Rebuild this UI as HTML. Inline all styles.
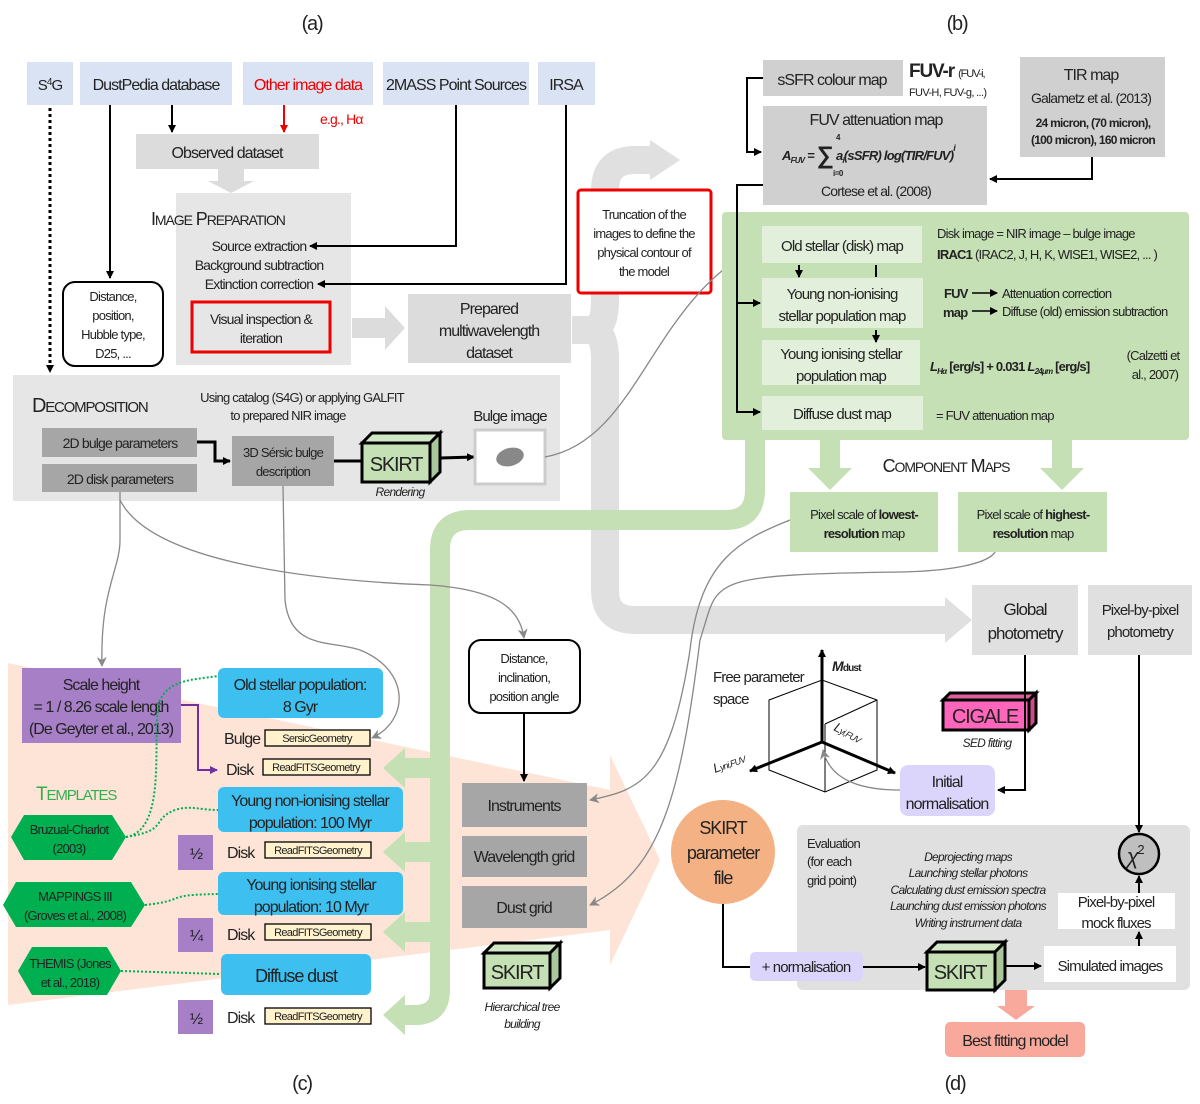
<!DOCTYPE html>
<html><head><meta charset="utf-8"><style>
html,body{margin:0;padding:0;background:#fff}
svg{display:block}
text{font-family:"Liberation Sans Narrow","Liberation Sans",sans-serif;fill:#222;letter-spacing:-0.06em}
.c{text-anchor:middle}
.i{font-style:italic}
</style></head><body>
<svg width="1200" height="1104" viewBox="0 0 1200 1104" xmlns="http://www.w3.org/2000/svg">
<defs>
<marker id="ak" markerWidth="8" markerHeight="8" refX="7" refY="4" orient="auto" markerUnits="userSpaceOnUse"><path d="M0,0 L8,4 L0,8 z" fill="#000"/></marker>
<marker id="ag" markerWidth="10" markerHeight="10" refX="9" refY="5" orient="auto" markerUnits="userSpaceOnUse"><path d="M0,0 L10,5 L0,10 L3,5 z" fill="#888"/></marker>
<marker id="ar" markerWidth="8" markerHeight="8" refX="7" refY="4" orient="auto" markerUnits="userSpaceOnUse"><path d="M0,0 L8,4 L0,8 z" fill="#e00"/></marker>
<marker id="ap" markerWidth="8" markerHeight="8" refX="7" refY="4" orient="auto" markerUnits="userSpaceOnUse"><path d="M0,0 L8,4 L0,8 z" fill="#7030a0"/></marker>
</defs>

<path d="M8,663 L610,790 L610,755 L660,860 L610,965 L610,930 L8,1005 z" fill="#fde4d6"/>

<path d="M572,330 L590,330 Q605,330 605,300 L605,190 Q605,160 635,160 L650,160" fill="none" stroke="#e0e0e0" stroke-width="28"/>
<path d="M650,140 L680,160 L650,180 z" fill="#e0e0e0"/>
<path d="M590,330 Q605,330 605,360 L605,590 Q605,620 635,620 L945,620" fill="none" stroke="#e0e0e0" stroke-width="28"/>
<path d="M945,597 L972,620 L945,643 z" fill="#e0e0e0"/>
<path d="M218,169 L244,169 L244,181 L254,181 L231,193 L208,181 L218,181 z" fill="#dcdcdc"/>
<path d="M352,318 L385,318 L385,306 L405,328 L385,350 L385,338 L352,338 z" fill="#dcdcdc"/>

<path d="M755,440 L755,490 Q755,520 725,520 L470,520 Q440,520 440,550 L440,990 Q440,1015 415,1015" fill="none" stroke="#c5e0b4" stroke-width="20"/>
<g fill="#c5e0b4">
<path d="M436,758 L405,758 L405,748 L383,768 L405,788 L405,778 L436,778 z"/>
<path d="M436,842 L405,842 L405,832 L383,852 L405,872 L405,862 L436,862 z"/>
<path d="M436,922 L405,922 L405,912 L383,932 L405,952 L405,942 L436,942 z"/>
<path d="M420,1005 L405,1005 L405,995 L383,1015 L405,1035 L405,1025 L420,1025 z"/>
<path d="M820,440 L840,440 L840,468 L852,468 L830,490 L808,468 L820,468 z"/>
<path d="M1052,440 L1072,440 L1072,468 L1084,468 L1062,490 L1040,468 L1052,468 z"/>
</g>

<text x="312" y="30" class="c" font-size="20">(a)</text>
<text x="957" y="30" class="c" font-size="20">(b)</text>
<text x="302" y="1090" class="c" font-size="20">(c)</text>
<text x="955" y="1090" class="c" font-size="20">(d)</text>

<g fill="#dae3f3">
<rect x="27" y="62" width="46" height="43"/>
<rect x="80" y="62" width="152" height="43"/>
<rect x="243" y="62" width="130" height="43"/>
<rect x="383" y="62" width="146" height="43"/>
<rect x="538" y="62" width="57" height="43"/>
</g>
<text x="50" y="90" class="c" font-size="15">S<tspan font-size="10" dy="-5">4</tspan><tspan dy="5">G</tspan></text>
<text x="156" y="90" class="c" font-size="16">DustPedia database</text>
<text x="308" y="90" class="c" font-size="16" style="fill:#e00">Other image data</text>
<text x="456" y="90" class="c" font-size="16">2MASS Point Sources</text>
<text x="566" y="90" class="c" font-size="16">IRSA</text>

<rect x="136" y="134" width="183" height="35" fill="#dcdcdc"/>
<text x="227" y="158" class="c" font-size="16">Observed dataset</text>
<text x="320" y="124" font-size="14" style="fill:#e00">e.g., Hα</text>
<line x1="172" y1="105" x2="172" y2="132" stroke="#000" stroke-width="2" marker-end="url(#ak)"/>
<line x1="284" y1="105" x2="284" y2="132" stroke="#e00" stroke-width="2" marker-end="url(#ar)"/>
<line x1="50" y1="108" x2="50" y2="372" stroke="#000" stroke-width="3" stroke-dasharray="3,3" marker-end="url(#ak)"/>
<line x1="110" y1="105" x2="110" y2="278" stroke="#000" stroke-width="2" marker-end="url(#ak)"/>

<rect x="176" y="193" width="175" height="172" fill="#e6e6e6"/>
<text x="151" y="225" font-size="18">I<tspan font-size="14">MAGE</tspan> P<tspan font-size="14">REPARATION</tspan></text>
<text x="259" y="251" class="c" font-size="14">Source extraction</text>
<text x="259" y="270" class="c" font-size="14">Background subtraction</text>
<text x="259" y="289" class="c" font-size="14">Extinction correction</text>
<rect x="192" y="302" width="138" height="50" fill="none" stroke="#e00" stroke-width="3"/>
<text x="261" y="324" class="c" font-size="14">Visual inspection &amp;</text>
<text x="261" y="343" class="c" font-size="14">iteration</text>
<path d="M456,105 L456,246 L310,246" fill="none" stroke="#000" stroke-width="2" marker-end="url(#ak)"/>
<path d="M566,105 L566,284 L318,284" fill="none" stroke="#000" stroke-width="2" marker-end="url(#ak)"/>

<rect x="63" y="282" width="100" height="84" rx="12" fill="#fff" stroke="#000" stroke-width="2"/>
<text x="113" y="301" class="c" font-size="13">Distance,</text>
<text x="113" y="320" class="c" font-size="13">position,</text>
<text x="113" y="339" class="c" font-size="13">Hubble type,</text>
<text x="113" y="358" class="c" font-size="13">D25, ...</text>

<rect x="408" y="294" width="163" height="69" fill="#dcdcdc"/>
<text x="489" y="314" class="c" font-size="16">Prepared</text>
<text x="489" y="336" class="c" font-size="16">multiwavelength</text>
<text x="489" y="358" class="c" font-size="16">dataset</text>

<rect x="578" y="190" width="133" height="103" rx="3" fill="#fff" stroke="#e00" stroke-width="3"/>
<text x="644" y="219" class="c" font-size="13">Truncation of the</text>
<text x="644" y="238" class="c" font-size="13">images to define the</text>
<text x="644" y="257" class="c" font-size="13">physical contour of</text>
<text x="644" y="276" class="c" font-size="13">the model</text>

<rect x="13" y="375" width="547" height="126" fill="#e6e6e6"/>
<text x="32" y="412" font-size="20">D<tspan font-size="15">ECOMPOSITION</tspan></text>
<text x="302" y="402" class="c" font-size="13">Using catalog (S4G) or applying GALFIT</text>
<text x="288" y="420" class="c" font-size="13">to prepared NIR image</text>
<rect x="42" y="428" width="155" height="29" fill="#a6a6a6"/>
<text x="120" y="448" class="c" font-size="14">2D bulge parameters</text>
<rect x="42" y="464" width="155" height="28" fill="#a6a6a6"/>
<text x="120" y="484" class="c" font-size="14">2D disk parameters</text>
<path d="M197,442 L215,442 L215,461 L230,461" fill="none" stroke="#000" stroke-width="3" marker-end="url(#ak)"/>
<rect x="232" y="436" width="102" height="50" fill="#a6a6a6"/>
<text x="283" y="457" class="c" font-size="13">3D Sérsic bulge</text>
<text x="283" y="476" class="c" font-size="13">description</text>
<line x1="334" y1="461" x2="362" y2="461" stroke="#000" stroke-width="3"/>
<g>
<path d="M362,443 L372,433 L440,433 L430,443 z" fill="#d2e7c5" stroke="#000" stroke-width="3"/>
<path d="M430,443 L440,433 L440,472 L430,482 z" fill="#a9c79a" stroke="#000" stroke-width="3"/>
<rect x="362" y="443" width="68" height="39" fill="#c5e0b4" stroke="#000" stroke-width="3"/>
<text x="396" y="471" class="c" font-size="20">SKIRT</text>
</g>
<text x="400" y="496" class="c i" font-size="12">Rendering</text>
<line x1="440" y1="458" x2="474" y2="457" stroke="#000" stroke-width="3" marker-end="url(#ak)"/>
<text x="510" y="421" class="c" font-size="15">Bulge image</text>
<rect x="475" y="430" width="70" height="54" fill="#fff" stroke="#ccc" stroke-width="3"/>
<ellipse cx="510" cy="457" rx="14" ry="9" transform="rotate(-15 510 457)" fill="#888"/>

<path d="M545,457 C640,440 650,300 760,246" fill="none" stroke="#888" stroke-width="1.3" marker-end="url(#ag)"/>
<path d="M120,492 L120,540 C120,570 100,590 102,666" fill="none" stroke="#888" stroke-width="1.3" marker-end="url(#ag)"/>
<path d="M120,500 C150,560 300,580 430,585 C500,590 520,610 524,638" fill="none" stroke="#888" stroke-width="1.3" marker-end="url(#ag)"/>
<path d="M283,486 L285,600 C290,650 330,640 360,650 C410,670 410,720 372,738" fill="none" stroke="#888" stroke-width="1.3" marker-end="url(#ag)"/>
<path d="M790,520 C740,540 700,560 690,650 C670,780 640,790 590,800" fill="none" stroke="#888" stroke-width="1.3" marker-end="url(#ag)"/>
<path d="M958,530 C1020,540 1010,570 900,572 C700,575 720,580 700,640 C680,800 660,870 590,905" fill="none" stroke="#888" stroke-width="1.3" marker-end="url(#ag)"/>

<rect x="763" y="60" width="140" height="36" fill="#d0d0d0"/>
<text x="832" y="85" class="c" font-size="16">sSFR colour map</text>
<text x="909" y="77" font-size="19" font-weight="bold">FUV-r <tspan font-size="11" font-weight="normal">(FUV-i,</tspan></text>
<text x="909" y="96" font-size="11">FUV-H, FUV-g, ...)</text>
<rect x="1020" y="57" width="145" height="100" fill="#d0d0d0"/>
<text x="1091" y="80" class="c" font-size="16">TIR map</text>
<text x="1091" y="103" class="c" font-size="14">Galametz et al. (2013)</text>
<text x="1093" y="127" class="c" font-size="12" font-weight="bold">24 micron, (70 micron),</text>
<text x="1093" y="144" class="c" font-size="12" font-weight="bold">(100 micron), 160 micron</text>
<rect x="763" y="106" width="224" height="99" fill="#d0d0d0"/>
<text x="876" y="125" class="c" font-size="16">FUV attenuation map</text>
<text x="782" y="160" font-family="Liberation Serif" font-size="13" font-weight="bold" font-style="italic">A<tspan font-size="8" dy="3">FUV</tspan><tspan dy="-3"> = </tspan><tspan font-size="24" font-style="normal" dy="3">∑</tspan><tspan dy="-3"> a</tspan><tspan font-size="8" dy="3">i</tspan><tspan dy="-3">(sSFR) log(TIR/FUV)</tspan><tspan font-size="9" dy="-9">i</tspan></text>
<text x="836" y="140" font-size="8" font-weight="bold">4</text>
<text x="833" y="176" font-size="8" font-weight="bold">i=0</text>
<text x="876" y="196" class="c" font-size="14">Cortese et al. (2008)</text>
<path d="M763,78 L747,78 L747,152 L761,152" fill="none" stroke="#000" stroke-width="2" marker-end="url(#ak)"/>
<path d="M1092,157 L1092,179 L990,179" fill="none" stroke="#000" stroke-width="2" marker-end="url(#ak)"/>

<rect x="722" y="212" width="467" height="228" rx="4" fill="#c5e0b4"/>
<g fill="#e2efda">
<rect x="762" y="226" width="160" height="37"/>
<rect x="762" y="278" width="161" height="50"/>
<rect x="762" y="340" width="158" height="45"/>
<rect x="762" y="396" width="161" height="34"/>
</g>
<text x="842" y="251" class="c" font-size="15">Old stellar (disk) map</text>
<text x="842" y="299" class="c" font-size="15">Young non-ionising</text>
<text x="842" y="321" class="c" font-size="15">stellar population map</text>
<text x="841" y="359" class="c" font-size="15">Young ionising stellar</text>
<text x="841" y="381" class="c" font-size="15">population map</text>
<text x="842" y="419" class="c" font-size="15">Diffuse dust map</text>
<path d="M763,185 L737,185 L737,412 L760,412" fill="none" stroke="#000" stroke-width="2" marker-end="url(#ak)"/>
<path d="M737,303 L760,303" fill="none" stroke="#000" stroke-width="2" marker-end="url(#ak)"/>
<line x1="799" y1="265" x2="799" y2="277" stroke="#000" stroke-width="2" marker-end="url(#ak)"/>
<line x1="876" y1="265" x2="876" y2="277" stroke="#000" stroke-width="2"/>
<line x1="876" y1="330" x2="876" y2="342" stroke="#000" stroke-width="2" marker-end="url(#ak)"/>
<text x="937" y="238" font-size="13">Disk image = NIR image – bulge image</text>
<text x="937" y="259" font-size="13"><tspan font-weight="bold">IRAC1</tspan> (IRAC2, J, H, K, WISE1, WISE2, ... )</text>
<text x="944" y="298" font-size="13" font-weight="bold">FUV</text>
<text x="943" y="317" font-size="13" font-weight="bold">map</text>
<line x1="972" y1="293" x2="997" y2="293" stroke="#000" stroke-width="1.5" marker-end="url(#ak)"/>
<line x1="972" y1="311" x2="997" y2="311" stroke="#000" stroke-width="1.5" marker-end="url(#ak)"/>
<text x="1002" y="298" font-size="13">Attenuation correction</text>
<text x="1002" y="316" font-size="13">Diffuse (old) emission subtraction</text>
<text x="930" y="371" font-family="Liberation Serif" font-size="13" font-style="italic" font-weight="bold">L<tspan font-size="8" dy="3">Hα</tspan><tspan dy="-3" font-style="normal"> [erg/s] + 0.031 </tspan>L<tspan font-size="8" dy="3">24μm</tspan><tspan dy="-3" font-style="normal"> [erg/s]</tspan></text>
<text x="1153" y="360" class="c" font-size="13">(Calzetti et</text>
<text x="1155" y="379" class="c" font-size="13">al., 2007)</text>
<text x="936" y="420" font-size="13">= FUV attenuation map</text>

<text x="946" y="472" class="c" font-size="18">C<tspan font-size="14">OMPONENT</tspan> M<tspan font-size="14">APS</tspan></text>
<rect x="790" y="492" width="148" height="60" fill="#c5e0b4"/>
<text x="864" y="519" class="c" font-size="13">Pixel scale of <tspan font-weight="bold">lowest-</tspan></text>
<text x="864" y="538" class="c" font-size="13"><tspan font-weight="bold">resolution</tspan> map</text>
<rect x="958" y="492" width="149" height="60" fill="#c5e0b4"/>
<text x="1033" y="519" class="c" font-size="13">Pixel scale of <tspan font-weight="bold">highest-</tspan></text>
<text x="1033" y="538" class="c" font-size="13"><tspan font-weight="bold">resolution</tspan> map</text>

<rect x="972" y="585" width="106" height="70" fill="#e0e0e0"/>
<text x="1025" y="615" class="c" font-size="17">Global</text>
<text x="1025" y="639" class="c" font-size="17">photometry</text>
<rect x="1088" y="585" width="104" height="70" fill="#e0e0e0"/>
<text x="1140" y="615" class="c" font-size="15">Pixel-by-pixel</text>
<text x="1140" y="637" class="c" font-size="15">photometry</text>

<g stroke="#000" stroke-width="1" fill="none">
<path d="M769,700 L822,680 L877,700 L877,770 L825,792 L769,770 z"/>
<path d="M825,724 L877,700 M825,724 L825,792"/>
</g>
<line x1="822" y1="742" x2="822" y2="650" stroke="#000" stroke-width="3" marker-end="url(#ak)"/>
<line x1="822" y1="742" x2="750" y2="771" stroke="#000" stroke-width="3" marker-end="url(#ak)"/>
<line x1="822" y1="742" x2="895" y2="773" stroke="#000" stroke-width="3" marker-end="url(#ak)"/>
<text x="832" y="671" font-family="Liberation Serif" font-size="14" font-weight="bold" font-style="italic">M<tspan font-size="10" font-style="normal">dust</tspan></text>
<text x="713" y="682" font-size="15">Free parameter</text>
<text x="713" y="704" font-size="15">space</text>
<text x="715" y="773" font-family="Liberation Serif" font-size="13" font-style="italic" transform="rotate(-20 715 773)">L<tspan font-size="9">yni,FUV</tspan></text>
<text x="833" y="730" font-family="Liberation Serif" font-size="13" font-style="italic" transform="rotate(28 833 730)">L<tspan font-size="9">yi,FUV</tspan></text>
<path d="M900,790 C860,790 830,780 823,750" fill="none" stroke="#888" stroke-width="1.3" marker-end="url(#ag)"/>

<g>
<path d="M943,700 L950,693 L1036,693 L1029,700 z" fill="#e0609d" stroke="#000" stroke-width="3"/>
<path d="M1029,700 L1036,693 L1036,723 L1029,730 z" fill="#d04b8a" stroke="#000" stroke-width="3"/>
<rect x="943" y="700" width="86" height="30" fill="#ff66bb" stroke="#000" stroke-width="3"/>
<text x="985" y="723" class="c" font-size="20">CIGALE</text>
</g>
<text x="987" y="747" class="c i" font-size="12">SED fitting</text>
<path d="M1025,655 L1025,790 L998,790" fill="none" stroke="#000" stroke-width="2" marker-end="url(#ak)"/>
<rect x="900" y="765" width="95" height="51" rx="8" fill="#dcd5fb"/>
<text x="947" y="787" class="c" font-size="16">Initial</text>
<text x="947" y="809" class="c" font-size="16">normalisation</text>

<rect x="797" y="825" width="393" height="165" rx="6" fill="#e0e0e0"/>
<text x="807" y="848" font-size="13">Evaluation</text>
<text x="807" y="866" font-size="13">(for each</text>
<text x="807" y="885" font-size="13">grid point)</text>
<g font-size="12">
<text x="968" y="861" class="c i">Deprojecting maps</text>
<text x="968" y="877" class="c i">Launching stellar photons</text>
<text x="968" y="894" class="c i">Calculating dust emission spectra</text>
<text x="968" y="910" class="c i">Launching dust emission photons</text>
<text x="968" y="927" class="c i">Writing instrument data</text>
</g>
<circle cx="723" cy="852" r="52" fill="#f4b183"/>
<text x="723" y="834" class="c" font-size="18">SKIRT</text>
<text x="723" y="859" class="c" font-size="18">parameter</text>
<text x="723" y="884" class="c" font-size="18">file</text>
<path d="M723,904 L723,967 L750,967" fill="none" stroke="#000" stroke-width="2"/>
<rect x="750" y="952" width="113" height="29" rx="5" fill="#dcd5fb"/>
<text x="806" y="972" class="c" font-size="15">+ normalisation</text>
<line x1="863" y1="967" x2="925" y2="967" stroke="#000" stroke-width="2" marker-end="url(#ak)"/>
<g>
<path d="M927,952 L937,942 L1005,942 L995,952 z" fill="#d2e7c5" stroke="#000" stroke-width="3"/>
<path d="M995,952 L1005,942 L1005,980 L995,990 z" fill="#a9c79a" stroke="#000" stroke-width="3"/>
<rect x="927" y="952" width="68" height="38" fill="#c5e0b4" stroke="#000" stroke-width="3"/>
<text x="960" y="979" class="c" font-size="20">SKIRT</text>
</g>
<line x1="1005" y1="966" x2="1041" y2="966" stroke="#000" stroke-width="2" marker-end="url(#ak)"/>
<rect x="1044" y="946" width="132" height="36" fill="#fff"/>
<text x="1110" y="971" class="c" font-size="15">Simulated images</text>
<rect x="1058" y="893" width="117" height="36" fill="#fff"/>
<text x="1116" y="907" class="c" font-size="15">Pixel-by-pixel</text>
<text x="1116" y="928" class="c" font-size="15">mock fluxes</text>
<line x1="1139" y1="946" x2="1139" y2="932" stroke="#000" stroke-width="2" marker-end="url(#ak)"/>
<line x1="1139" y1="893" x2="1139" y2="876" stroke="#000" stroke-width="2" marker-end="url(#ak)"/>
<line x1="1139" y1="655" x2="1139" y2="832" stroke="#000" stroke-width="2" marker-end="url(#ak)"/>
<circle cx="1139" cy="854" r="20" fill="#bfbfbf" stroke="#000" stroke-width="2.5"/>
<text x="1135" y="864" class="c" font-family="Liberation Serif" font-size="22" font-style="italic">χ<tspan font-size="13" font-style="normal" dy="-10">2</tspan></text>
<path d="M1005,990 L1027,990 L1027,1006 L1035,1006 L1016,1020 L997,1006 L1005,1006 z" fill="#f8a99c"/>
<rect x="945" y="1022" width="140" height="35" rx="5" fill="#f8a99c"/>
<text x="1015" y="1046" class="c" font-size="16">Best fitting model</text>

<rect x="22" y="668" width="159" height="75" fill="#a67fc7"/>
<text x="101" y="690" class="c" font-size="16">Scale height</text>
<text x="101" y="712" class="c" font-size="16">= 1 / 8.26 scale length</text>
<text x="101" y="734" class="c" font-size="16">(De Geyter et al., 2013)</text>
<path d="M181,705 L198,705 L198,770 L217,770" fill="none" stroke="#7030a0" stroke-width="2" marker-end="url(#ap)"/>

<g fill="#3dbff0">
<rect x="218" y="668" width="165" height="50" rx="6"/>
<rect x="218" y="787" width="185" height="45" rx="6"/>
<rect x="218" y="872" width="185" height="43" rx="6"/>
<rect x="221" y="954" width="150" height="41" rx="6"/>
</g>
<text x="300" y="690" class="c" font-size="16">Old stellar population:</text>
<text x="300" y="712" class="c" font-size="16">8 Gyr</text>
<text x="310" y="806" class="c" font-size="16">Young non-ionising stellar</text>
<text x="310" y="828" class="c" font-size="16">population: 100 Myr</text>
<text x="311" y="890" class="c" font-size="16">Young ionising stellar</text>
<text x="311" y="912" class="c" font-size="16">population: 10 Myr</text>
<text x="296" y="982" class="c" font-size="18">Diffuse dust</text>

<g fill="#fff2cc" stroke="#000" stroke-width="1.3">
<rect x="265" y="730" width="105" height="16"/>
<rect x="263" y="759" width="107" height="16"/>
<rect x="265" y="842" width="106" height="16"/>
<rect x="265" y="924" width="106" height="16"/>
<rect x="265" y="1008" width="106" height="16"/>
</g>
<g font-size="11">
<text x="317" y="742" class="c">SersicGeometry</text>
<text x="316" y="771" class="c">ReadFITSGeometry</text>
<text x="318" y="854" class="c">ReadFITSGeometry</text>
<text x="318" y="936" class="c">ReadFITSGeometry</text>
<text x="318" y="1020" class="c">ReadFITSGeometry</text>
</g>
<g font-size="16">
<text x="224" y="744">Bulge</text>
<text x="226" y="775">Disk</text>
<text x="227" y="858">Disk</text>
<text x="227" y="940">Disk</text>
<text x="227" y="1023">Disk</text>
</g>
<g fill="#a67fc7">
<rect x="178" y="835" width="35" height="35"/>
<rect x="178" y="918" width="35" height="34"/>
<rect x="178" y="1000" width="35" height="34"/>
</g>
<text x="196" y="859" class="c" font-size="16">½</text>
<text x="196" y="941" class="c" font-size="16">¼</text>
<text x="196" y="1024" class="c" font-size="16">½</text>

<text x="36" y="800" font-size="19" style="fill:#33b050">T<tspan font-size="15">EMPLATES</tspan></text>
<g fill="#00b050">
<path d="M11,837 L24,815 L112,815 L126,837 L112,860 L24,860 z"/>
<path d="M3,905 L16,882 L131,882 L145,905 L131,927 L16,927 z"/>
<path d="M18,971 L32,947 L107,947 L121,971 L107,995 L32,995 z"/>
</g>
<text x="69" y="834" class="c" font-size="13">Bruzual-Charlot</text>
<text x="69" y="853" class="c" font-size="13">(2003)</text>
<text x="75" y="901" class="c" font-size="13">MAPPINGS III</text>
<text x="75" y="920" class="c" font-size="13">(Groves et al., 2008)</text>
<text x="70" y="968" class="c" font-size="13">THEMIS (Jones</text>
<text x="70" y="987" class="c" font-size="13">et al., 2018)</text>
<g fill="none" stroke="#00b050" stroke-width="2" stroke-dasharray="2,2">
<path d="M126,837 C170,830 150,730 160,700 C170,680 190,680 218,676"/>
<path d="M126,837 C170,830 150,820 175,810 C190,805 200,810 218,810"/>
<path d="M145,905 C190,900 160,895 218,894"/>
<path d="M121,971 L221,974"/>
</g>

<rect x="469" y="640" width="111" height="73" rx="12" fill="#fff" stroke="#000" stroke-width="2"/>
<text x="524" y="663" class="c" font-size="13">Distance,</text>
<text x="524" y="682" class="c" font-size="13">inclination,</text>
<text x="524" y="701" class="c" font-size="13">position angle</text>
<line x1="524" y1="713" x2="524" y2="781" stroke="#000" stroke-width="2" marker-end="url(#ak)"/>
<g fill="#a6a6a6">
<rect x="462" y="783" width="125" height="44"/>
<rect x="462" y="836" width="125" height="41"/>
<rect x="462" y="886" width="125" height="42"/>
</g>
<text x="524" y="811" class="c" font-size="16">Instruments</text>
<text x="524" y="862" class="c" font-size="16">Wavelength grid</text>
<text x="524" y="913" class="c" font-size="16">Dust grid</text>
<g>
<path d="M484,953 L494,943 L560,943 L550,953 z" fill="#d2e7c5" stroke="#000" stroke-width="3"/>
<path d="M550,953 L560,943 L560,978 L550,988 z" fill="#a9c79a" stroke="#000" stroke-width="3"/>
<rect x="484" y="953" width="66" height="35" fill="#c5e0b4" stroke="#000" stroke-width="3"/>
<text x="517" y="979" class="c" font-size="20">SKIRT</text>
</g>
<text x="522" y="1011" class="c i" font-size="12">Hierarchical tree</text>
<text x="522" y="1028" class="c i" font-size="12">building</text>
</svg>
</body></html>
